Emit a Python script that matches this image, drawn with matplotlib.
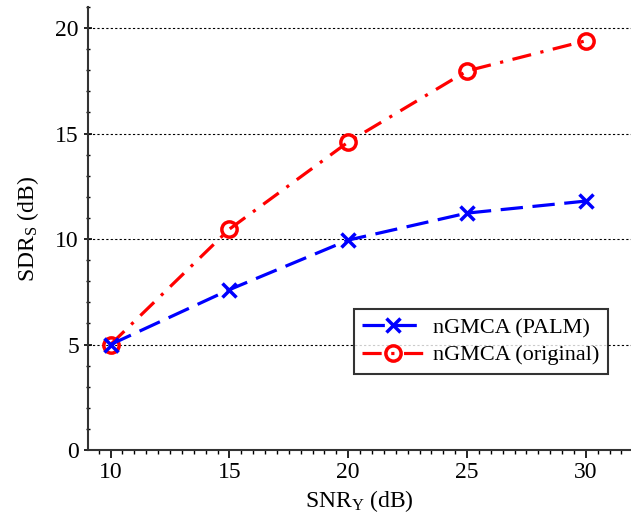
import matplotlib
matplotlib.use("Agg")
import matplotlib.pyplot as plt
from matplotlib.ticker import MultipleLocator

snr = [10, 15, 20, 25, 30]
palm = [5.0, 7.6, 9.95, 11.23, 11.8]
original = [5.0, 10.47, 14.6, 17.97, 19.4]
xticks = [10, 15, 20, 25, 30]
yticks = [0, 5, 10, 15, 20]

plt.rcParams['font.family'] = ['Liberation Serif', 'DejaVu Serif']
plt.rcParams['mathtext.fontset'] = 'custom'
plt.rcParams['mathtext.rm'] = 'Liberation Serif'
plt.rcParams['mathtext.it'] = 'Liberation Serif:italic'

fig = plt.figure(figsize=(6.31, 5.18), dpi=100)
ax = fig.add_axes([88/631, 68/518, (631-88)/631, (450-7)/518])

ax.plot(snr, original, color='red', linestyle=(0, (6, 3, 1, 3)), linewidth=2.3,
        marker='o', markersize=11, markerfacecolor='none', markeredgewidth=2.5,
        label='nGMCA (original)', zorder=3)
ax.plot(snr, palm, color='blue', linestyle=(0, (7, 3)), linewidth=2.3,
        marker='x', markersize=10, markeredgewidth=2.5,
        label='nGMCA (PALM)', zorder=4)

ax.set_xlim(9.05, 31.9)
ax.set_ylim(0, 21.0)
ax.set_xticks(xticks)
ax.set_yticks(yticks)
ax.xaxis.set_minor_locator(MultipleLocator(0.5))
ax.yaxis.set_minor_locator(MultipleLocator(1))
ax.tick_params(axis='both', which='major', labelsize=17, width=1.2, length=6)
ax.tick_params(axis='x', which='both', direction='out')
ax.tick_params(axis='x', which='major', pad=3)
ax.tick_params(axis='y', which='both', direction='inout')
ax.tick_params(which='minor', length=3, width=1)
ax.yaxis.grid(True, linestyle=(0, (2, 2)), color='black', linewidth=0.8)
for s in ['top', 'right']:
    ax.spines[s].set_visible(False)
for s in ['left', 'bottom']:
    ax.spines[s].set_linewidth(1.5)
    ax.spines[s].set_color('#333333')

ax.set_xlabel(r'SNR$_\mathrm{Y}$ (dB)', fontsize=17, labelpad=3)
ax.set_ylabel(r'SDR$_\mathrm{S}$ (dB)', fontsize=17, labelpad=10)

handles, labels = ax.get_legend_handles_labels()
leg = ax.legend(handles[::-1], labels[::-1], loc='lower right', bbox_to_anchor=(0.958, 0.172),
                borderaxespad=0,
                fontsize=16, frameon=True, fancybox=False, edgecolor='black',
                handlelength=2.8, borderpad=0.38, labelspacing=0.3, handletextpad=0.4)
leg.get_frame().set_linewidth(1.5)

fig.savefig('out.png', dpi=100)
